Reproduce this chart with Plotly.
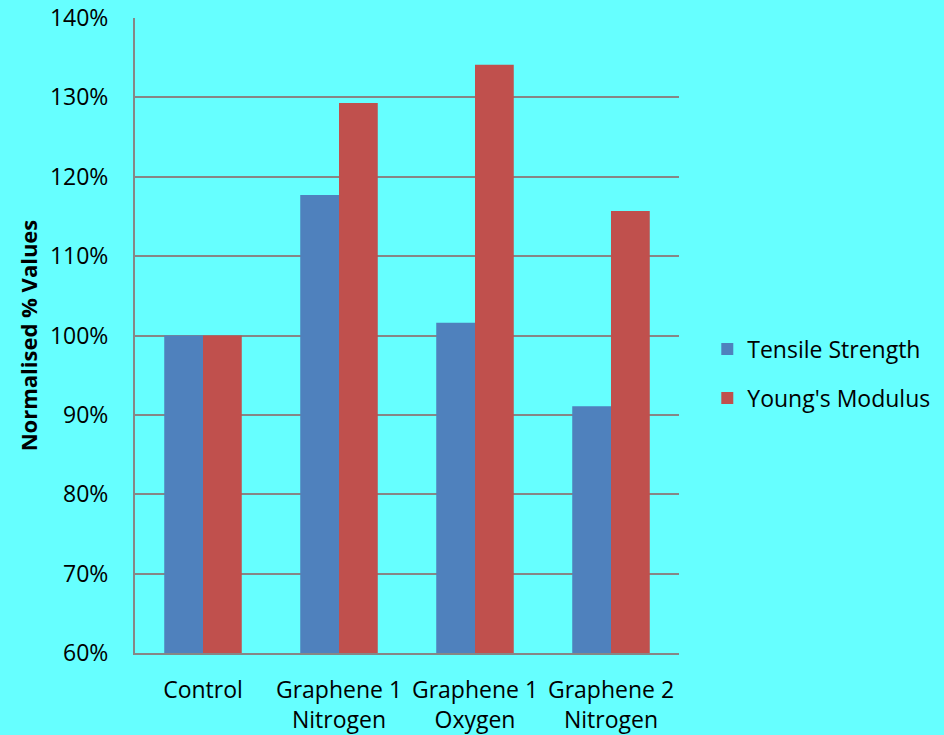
import plotly.graph_objects as go

categories = ["Control", "Graphene 1<br>Nitrogen", "Graphene 1<br>Oxygen", "Graphene 2<br>Nitrogen"]
tensile_strength = [100.0, 117.7, 101.6, 91.1]
youngs_modulus = [100.0, 129.3, 134.1, 115.7]
y_ticks = [60, 70, 80, 90, 100, 110, 120, 130, 140]
y_tick_labels = [f"{v}%" for v in y_ticks]

FONT = "'Open Sans', sans-serif"
GRID = "#868686"

fig = go.Figure()
fig.add_trace(go.Bar(name="Tensile Strength", x=categories, y=tensile_strength,
                     legendgroup="ts",
                     marker=dict(color="#4F81BD", line=dict(width=0))))
fig.add_trace(go.Bar(name="Young's Modulus", x=categories, y=youngs_modulus,
                     legendgroup="ym",
                     marker=dict(color="#C0504D", line=dict(width=0))))

fig.update_layout(
    width=944, height=735,
    margin=dict(l=135, r=265, t=18, b=82, autoexpand=False),
    paper_bgcolor="#66FFFF", plot_bgcolor="#66FFFF",
    barmode="group", bargap=0.43, bargroupgap=0,
    font=dict(family=FONT, size=23, color="#000000"),
    showlegend=True,
    legend=dict(x=1.052, y=0.44, xanchor="left", yanchor="middle",
                bgcolor="rgba(0,0,0,0)", font=dict(size=23),
                itemsizing="constant", tracegroupgap=16),
)
fig.update_xaxes(showgrid=False, showline=True, linecolor=GRID, linewidth=2,
                 automargin=False,
                 ticks="", tickfont=dict(size=23), ticklabelstandoff=15)
fig.update_yaxes(range=[60, 140], tickvals=y_ticks, ticktext=y_tick_labels,
                 automargin=False,
                 showgrid=True, gridcolor=GRID, gridwidth=1.6,
                 showline=True, linecolor=GRID, linewidth=2,
                 zeroline=False, ticks="", ticklabelstandoff=20,
                 tickfont=dict(size=23),
                 title=dict(text="<b>Normalised % Values</b>", font=dict(size=22), standoff=6))

fig.write_html("out.html")
